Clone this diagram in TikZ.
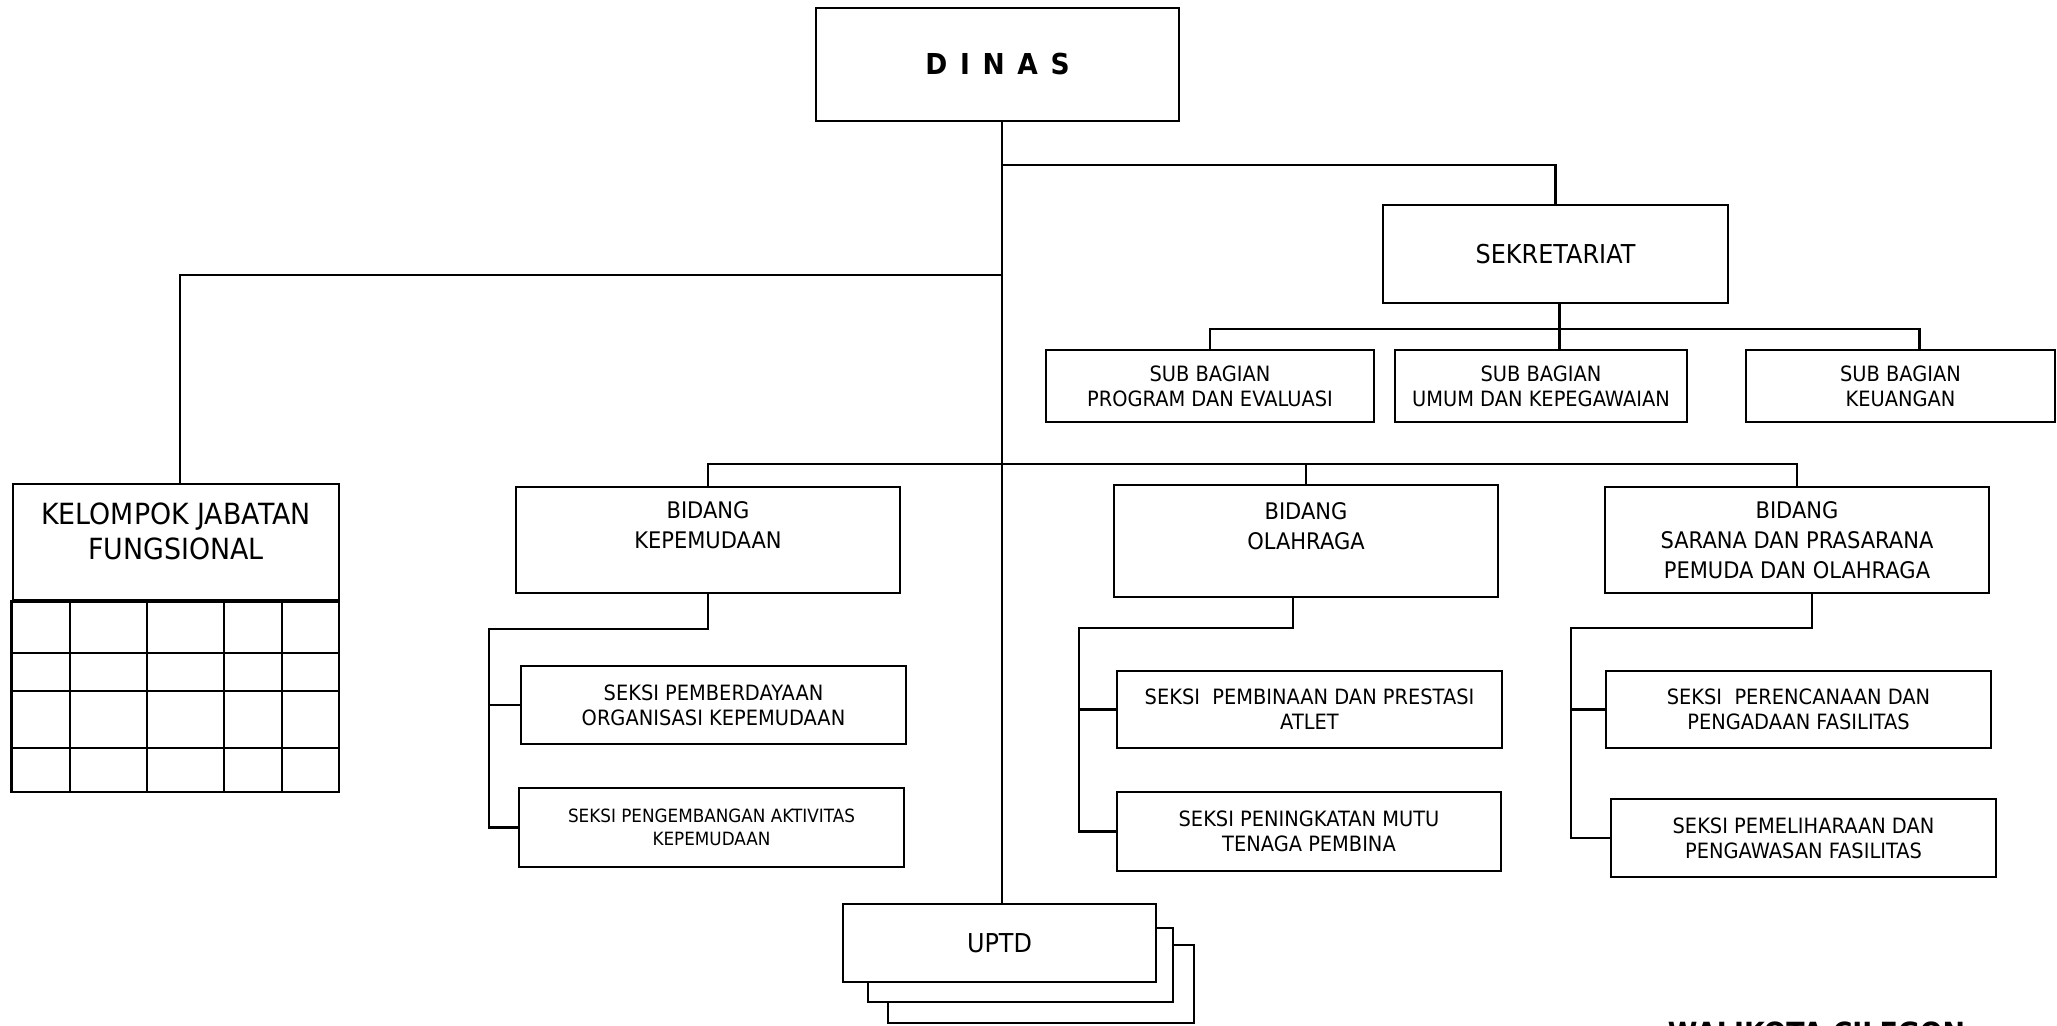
\documentclass[tikz,border=0pt]{standalone}
\usepackage{fontspec}
\setmainfont{DejaVu Sans}[FakeStretch=0.92]
\usetikzlibrary{positioning}

\newcommand{\ftiny}{\fontsize{5.2}{6.5}\selectfont}
\newcommand{\fsmall}{\fontsize{6}{7.1}\selectfont}
\newcommand{\fmid}{\fontsize{6.5}{8.5}\selectfont}
\newcommand{\fbig}{\fontsize{7.4}{9}\selectfont}
\newcommand{\fkel}{\fontsize{8.3}{10}\selectfont}

\begin{document}
\begin{tikzpicture}[conn/.style={draw=black, line width=0.6pt}]
\useasboundingbox (0,0) rectangle (20.57,-10.26);
\clip (0,0) rectangle (20.57,-10.26);

\begin{scope}[every node/.style={draw, rectangle, line width=0.8pt, fill=white, align=center, inner sep=0pt}]
  \node[minimum width=3.63cm, minimum height=1.13cm, font=\fontsize{8.2}{10}\selectfont\bfseries] (D) at (9.975,-0.645) {{\spaceskip=3.6pt D I N A S}};
    \node[minimum width=3.45cm, minimum height=0.98cm, font=\fbig] (S) at (15.555,-2.54) {SEKRETARIAT};
    % sub bagian
    \node[minimum width=3.28cm, minimum height=0.72cm, font=\fsmall] (SB1) at (12.10,-3.86) {SUB BAGIAN\\PROGRAM DAN EVALUASI};
    \node[minimum width=2.92cm, minimum height=0.72cm, font=\fsmall] (SB2) at (15.41,-3.86) {SUB BAGIAN\\UMUM DAN KEPEGAWAIAN};
    \node[minimum width=3.09cm, minimum height=0.72cm, font=\fsmall] (SB3) at (19.005,-3.86) {SUB BAGIAN\\KEUANGAN};
    \node[minimum width=3.26cm, minimum height=1.16cm, font=\fkel] (K) at (1.76,-5.42) {KELOMPOK JABATAN\\FUNGSIONAL\\[-0.13cm]~};
    % bidang
    \node[minimum width=3.84cm, minimum height=1.06cm, font=\fmid] (B1) at (7.08,-5.40) {BIDANG\\KEPEMUDAAN\\~};
    \node[minimum width=3.84cm, minimum height=1.12cm, font=\fmid] (B2) at (13.06,-5.41) {BIDANG\\OLAHRAGA\\~};
    \node[minimum width=3.84cm, minimum height=1.06cm, font=\fmid] (B3) at (17.97,-5.40) {BIDANG\\SARANA DAN PRASARANA\\PEMUDA DAN OLAHRAGA};
    % seksi
    \node[minimum width=3.85cm, minimum height=0.78cm, font=\fsmall] (K1) at (7.135,-7.05) {SEKSI PEMBERDAYAAN\\ORGANISASI KEPEMUDAAN};
    \node[minimum width=3.85cm, minimum height=0.79cm, font=\ftiny] (K2) at (7.115,-8.275) {SEKSI PENGEMBANGAN AKTIVITAS\\KEPEMUDAAN};
    \node[minimum width=3.85cm, minimum height=0.77cm, font=\fsmall] (O1) at (13.095,-7.095) {SEKSI\ \ PEMBINAAN DAN PRESTASI\\ATLET};
    \node[minimum width=3.84cm, minimum height=0.79cm, font=\fsmall] (O2) at (13.09,-8.315) {SEKSI PENINGKATAN MUTU\\TENAGA PEMBINA};
    \node[minimum width=3.85cm, minimum height=0.77cm, font=\fsmall] (P1) at (17.985,-7.095) {SEKSI\ \ PERENCANAAN DAN\\PENGADAAN FASILITAS};
    \node[minimum width=3.85cm, minimum height=0.78cm, font=\fsmall] (P2) at (18.035,-8.38) {SEKSI PEMELIHARAAN DAN\\PENGAWASAN FASILITAS};
    % uptd (stacked)
    \node[minimum width=3.06cm, minimum height=0.78cm] (U3) at (10.41,-9.84) {};
    \node[minimum width=3.05cm, minimum height=0.74cm] (U2) at (10.205,-9.65) {};
    \node[minimum width=3.13cm, minimum height=0.78cm, font=\fbig] (U) at (9.995,-9.43) {UPTD};
\end{scope}

% grid under kelompok jabatan fungsional
\draw[line width=0.8pt] (K.south west) rectangle (3.39,-7.92);
\foreach \y in {6.53,6.91,7.48}
  \draw[line width=0.8pt] (0.13,-\y) -- (3.39,-\y);
\foreach \x in {0.70,1.47,2.24,2.82}
  \draw[line width=0.8pt] (\x,-6.0) -- (\x,-7.92);

\coordinate (T) at (10.02,0);
\coordinate (jS) at (10.02,-1.65);
\coordinate (jK) at (10.02,-2.75);
\coordinate (jB) at (10.02,-4.64);
\coordinate (bSB) at (15.6,-3.29);
\coordinate (kL) at (4.89,-6.29);
\coordinate (oL) at (10.79,-6.28);
\coordinate (pL) at (15.71,-6.28);

\begin{scope}[every path/.style={conn}]
    \path (D.south -| T) edge (U.north -| T);
    \draw (jS) -| (S.north);
    \draw (jK) -| ([xshift=0.04cm]K.north);
    \draw ([xshift=0.04cm]S.south) -- ([xshift=0.04cm]S.south |- SB2.north);
    \draw (SB1.north) |- (bSB) -| ([xshift=0.19cm]SB3.north);
    \draw (B1.north) |- (jB) -| (B3.north);
    \draw (B2.north) -- (B2.north |- jB);
    % seksi kepemudaan
    \draw (B1.south) |- (kL) |- (K2.west);
    \draw (K1.west) -- (K1.west -| kL);
    % seksi olahraga
    \draw ([xshift=-0.13cm]B2.south) |- (oL) |- (O2.west);
    \draw (O1.west) -- (O1.west -| oL);
    % seksi sarana
    \draw ([xshift=0.15cm]B3.south) |- (pL) |- (P2.west);
    \draw (P1.west) -- (P1.west -| pL);
\end{scope}

\node[anchor=north, inner sep=0pt, font=\fontsize{8.3}{10}\selectfont\bfseries] (W) at (18.165,-10.21) {WALIKOTA CILEGON};
\end{tikzpicture}
\end{document}
